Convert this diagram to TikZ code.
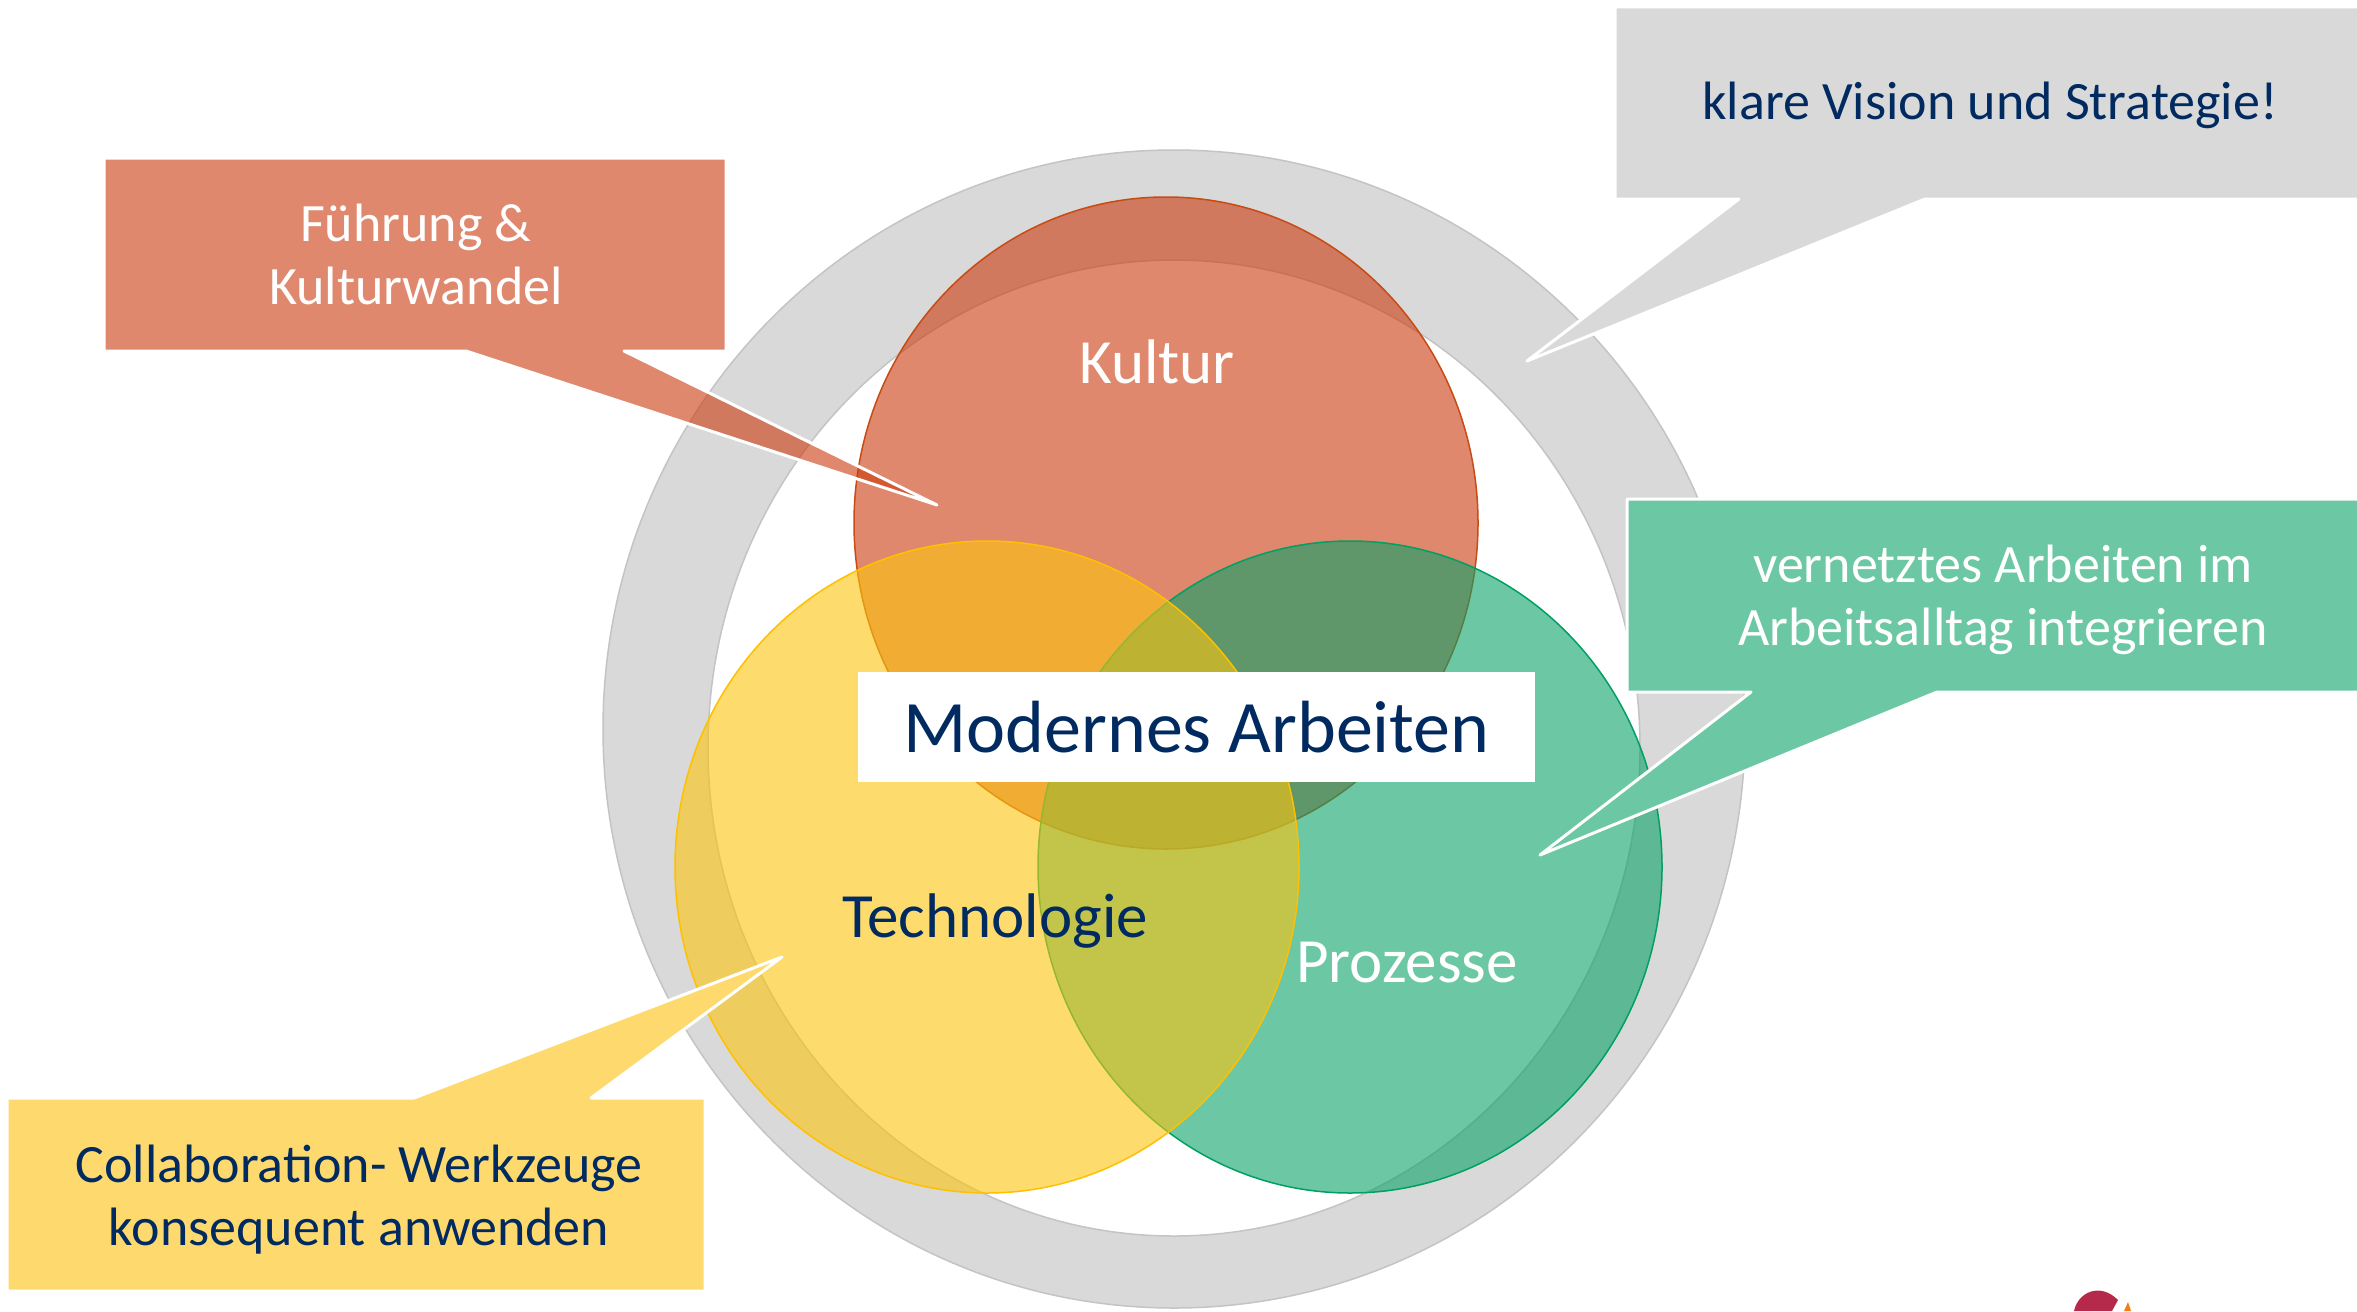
\documentclass[tikz,border=0pt]{standalone}
\usepackage{fontspec}
\setmainfont{Carlito}
\definecolor{ringgray}{RGB}{217,217,217}
\definecolor{ringedge}{RGB}{196,196,196}
\definecolor{kred}{RGB}{203,58,13}
\definecolor{kredline}{RGB}{200,75,20}
\definecolor{tyellow}{RGB}{252,197,13}
\definecolor{tyellowline}{RGB}{255,192,0}
\definecolor{pgreen}{RGB}{10,162,105}
\definecolor{pgreenline}{RGB}{0,160,100}
\definecolor{navy}{RGB}{0,42,96}
\definecolor{calgray}{RGB}{217,217,217}
\definecolor{calgreen}{RGB}{108,199,165}
\definecolor{calyellow}{RGB}{254,218,110}
\definecolor{logored}{RGB}{181,41,74}
\definecolor{logoorange}{RGB}{240,127,26}
\begin{document}
\begin{tikzpicture}[x=1pt,y=-1pt,
  circ/.style={fill opacity=0.6, line width=1.5pt},
  callout/.style={draw=white, line width=3pt, line join=round},
  txt/.style={inner sep=0pt, anchor=base, font=\fontsize{54}{63}\selectfont},
  lbl/.style={inner sep=0pt, anchor=base, font=\fontsize{63}{75}\selectfont}]
\useasboundingbox[fill=white] (0,0) rectangle (2357,1311);
% ring
\path[fill=ringgray, draw=ringedge, line width=1.5pt, even odd rule]
  (1174,729) ellipse [x radius=571, y radius=579]
  (1174,748) ellipse [x radius=466, y radius=488];
% circles
\draw[circ, fill=kred, draw=kredline] (1166,523) ellipse [x radius=312, y radius=326];
\draw[circ, fill=pgreen, draw=pgreenline] (1350,867) ellipse [x radius=312, y radius=326];
\draw[circ, fill=tyellow, draw=tyellowline] (987,867) ellipse [x radius=312, y radius=326];
% callouts
\path[callout, fill=kred, fill opacity=0.6]
  (104,158) -- (726,158) -- (726,351) -- (624,351) -- (937,505) -- (466,351) -- (104,351) -- cycle;
\path[callout, fill=calgray]
  (1615,7) -- (2370,7) -- (2370,199) -- (1925,199) -- (1527,361) -- (1739,199) -- (1615,199) -- cycle;
\path[callout, fill=calgreen]
  (1627,499) -- (2370,499) -- (2370,692) -- (1937,692) -- (1540,855) -- (1751,692) -- (1627,692) -- cycle;
\path[callout, fill=calyellow]
  (7,1098) -- (414,1098) -- (782,957) -- (591,1098) -- (705,1098) -- (705,1291) -- (7,1291) -- cycle;
% callout texts
\node[txt, text=white] (fk1) at (416,241) {Führung \&};
\node[txt, text=white] (fk2) at (416,304) {Kulturwandel};
\node[txt, text=navy] (vis) at (1990,120) {klare Vision und Strategie!};
\node[txt, text=white] (ve1) at (2003,582) {vernetztes Arbeiten im};
\node[txt, text=white] (ve2) at (2003,645) {Arbeitsalltag integrieren};
\node[txt, text=navy] (co1) at (359,1182) {Collaboration- Werkzeuge};
\node[txt, text=navy] (co2) at (359,1245) {konsequent anwenden};
% center box
\node[fill=white, minimum width=677pt, minimum height=110pt, inner sep=0pt,
  text=navy, font=\fontsize{74}{88}\selectfont] (modern) at (1196.5,727) {Modernes Arbeiten};
% circle labels
\node[lbl, text=white] (kultur) at (1157,383) {Kultur};
\node[lbl, text=navy] (tech) at (995,937) {Technologie};
\node[lbl, text=white] (proz) at (1407,982) {Prozesse};
% logo fragment
\fill[logored] (2074,1311) .. controls (2078,1292) and (2100,1282) .. (2118,1300) -- (2112,1311) -- cycle;
\fill[logoorange] (2124,1311) -- (2128,1302) -- (2131,1311) -- cycle;
\end{tikzpicture}
\end{document}
